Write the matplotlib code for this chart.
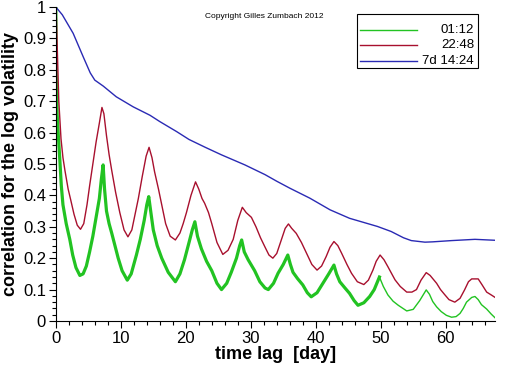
import numpy as np
import matplotlib.pyplot as plt
from matplotlib.ticker import MultipleLocator
from matplotlib.patches import Rectangle

plt.rcParams['font.family'] = ['Liberation Sans', 'DejaVu Sans']

# lag [day] / correlation

# 01:12
day_g = [0.0, 0.05, 0.2, 0.36, 0.6, 0.85, 1.1, 1.6, 2.15, 2.6, 3.1, 3.7, 4.2, 4.7, 5.2,
         5.7, 6.2, 6.7, 7.0, 7.28, 7.5, 7.8, 8.2, 8.6, 9.1, 9.6, 10.2, 11.0, 11.6, 12.4,
         13.0, 13.6, 14.0, 14.3, 14.6, 15.0, 15.6, 16.3, 17.3, 18.4, 19.1, 19.8, 20.5,
         21.0, 21.4, 21.8, 22.4, 23.2, 24.0, 24.8, 25.5, 26.3, 27.0, 27.8, 28.3, 28.6,
         29.0, 29.6, 30.6, 31.4, 32.2, 32.7, 33.5, 34.2, 35.0, 35.7, 36.1, 36.5, 37.2,
         38.0, 38.7, 39.3, 40.2, 41.1, 42.0, 42.8, 43.2, 43.7, 44.5, 45.2, 45.9, 46.5,
         47.4, 48.3, 49.0, 49.8, 50.4, 51.1, 51.9, 52.7, 54.0, 55.0, 56.0, 57.0, 57.5,
         58.0, 58.6, 59.3, 60.1, 60.9, 61.6, 62.2, 62.7, 63.2, 64.0, 64.5, 65.0, 65.5,
         66.3, 67.0, 67.6]
corr_g = [1.0, 0.80, 0.66, 0.60, 0.52, 0.43, 0.37, 0.31, 0.26, 0.21, 0.17, 0.145, 0.15,
          0.175, 0.22, 0.27, 0.33, 0.39, 0.45, 0.497, 0.42, 0.35, 0.31, 0.28, 0.24, 0.20,
          0.16, 0.13, 0.15, 0.21, 0.26, 0.32, 0.37, 0.396, 0.35, 0.29, 0.24, 0.20, 0.155,
          0.125, 0.15, 0.195, 0.25, 0.29, 0.316, 0.27, 0.23, 0.19, 0.16, 0.12, 0.10,
          0.12, 0.155, 0.20, 0.24, 0.258, 0.22, 0.195, 0.16, 0.125, 0.105, 0.10, 0.12,
          0.152, 0.18, 0.21, 0.18, 0.155, 0.135, 0.115, 0.09, 0.077, 0.09, 0.12, 0.15,
          0.178, 0.15, 0.125, 0.105, 0.088, 0.065, 0.05, 0.058, 0.078, 0.10, 0.14, 0.11,
          0.083, 0.063, 0.05, 0.032, 0.037, 0.065, 0.099, 0.085, 0.062, 0.045, 0.03,
          0.018, 0.012, 0.014, 0.024, 0.04, 0.06, 0.075, 0.078, 0.068, 0.052, 0.038,
          0.022, 0.01]

# 22:48
day_r = [0.0, 0.1, 0.25, 0.46, 0.8, 1.1, 1.4, 1.9, 2.3, 2.8, 3.3, 3.8, 4.3, 4.8, 5.2,
         5.7, 6.2, 6.7, 7.1, 7.4, 7.8, 8.2, 8.6, 9.2, 9.85, 10.5, 11.1, 11.7, 12.2, 12.7,
         13.3, 13.9, 14.35, 14.8, 15.2, 15.8, 16.3, 16.9, 17.6, 18.4, 19.1, 19.6, 20.1,
         20.8, 21.5, 22.0, 22.5, 22.9, 23.5, 24.0, 24.8, 25.7, 26.5, 27.3, 28.0, 28.7,
         29.3, 30.1, 30.8, 31.5, 32.2, 32.8, 33.4, 34.0, 34.7, 35.3, 35.8, 36.3, 37.0,
         37.8, 38.6, 39.4, 40.2, 40.9, 41.6, 42.2, 42.8, 43.4, 44.0, 44.8, 45.5, 46.4,
         47.4, 48.1, 48.8, 49.3, 49.9, 50.5, 51.1, 51.7, 52.2, 53.0, 54.0, 54.8, 55.5,
         56.2, 57.0, 57.6, 58.2, 58.6, 59.2, 59.8, 60.5, 61.4, 62.2, 62.9, 63.5, 64.0,
         65.0, 65.6, 66.3, 67.0, 67.6]
corr_r = [1.0, 0.96, 0.85, 0.70, 0.58, 0.52, 0.48, 0.42, 0.385, 0.34, 0.305, 0.292, 0.31,
          0.37, 0.43, 0.50, 0.57, 0.63, 0.68, 0.66, 0.59, 0.53, 0.48, 0.41, 0.345, 0.29,
          0.268, 0.29, 0.34, 0.39, 0.46, 0.525, 0.553, 0.52, 0.475, 0.42, 0.37, 0.31,
          0.27, 0.258, 0.28, 0.31, 0.345, 0.40, 0.443, 0.42, 0.39, 0.375, 0.345, 0.31,
          0.25, 0.212, 0.225, 0.26, 0.32, 0.362, 0.345, 0.33, 0.30, 0.265, 0.235, 0.21,
          0.20, 0.215, 0.258, 0.295, 0.309, 0.295, 0.279, 0.25, 0.215, 0.18, 0.162,
          0.175, 0.205, 0.235, 0.253, 0.24, 0.215, 0.18, 0.152, 0.125, 0.116, 0.13,
          0.162, 0.19, 0.21, 0.195, 0.173, 0.15, 0.131, 0.11, 0.092, 0.092, 0.10, 0.13,
          0.154, 0.145, 0.13, 0.12, 0.10, 0.085, 0.068, 0.06, 0.072, 0.099, 0.125, 0.134,
          0.134, 0.115, 0.092, 0.083, 0.075]

# 7d 14:24
day_b = [0.0, 1.0, 2.67, 4.2, 5.3, 6.0, 7.3, 9.3, 11.9, 14.5, 16.0, 18.6, 20.5, 23.0,
         25.5, 29.1, 32.2, 34.0, 36.0, 39.1, 42.2, 45.2, 49.5, 51.6, 53.5, 54.7, 56.8,
         58.0, 60.9, 64.5, 67.6]
corr_b = [1.0, 0.975, 0.916, 0.842, 0.79, 0.767, 0.748, 0.714, 0.682, 0.655, 0.635,
          0.603, 0.578, 0.553, 0.529, 0.497, 0.466, 0.445, 0.423, 0.391, 0.354, 0.327,
          0.301, 0.285, 0.265, 0.256, 0.251, 0.252, 0.256, 0.26, 0.257]

labels = ['01:12', '22:48', '7d 14:24']
colors = ['#22c322', '#a8102e', '#2a2ab4']

fig = plt.figure(figsize=(5.12, 3.66), dpi=100)
ax = fig.add_axes([0.109, 0.123, 0.858, 0.858])
ax.spines['top'].set_visible(False)
ax.spines['right'].set_visible(False)

day_g = np.array(day_g)
corr_g = np.array(corr_g)
thick = day_g <= 49.8
thin = day_g >= 49.8

# the 01:12 curve is a noisy band up to ~50 days, thin afterwards
ax.plot(day_g[thick], corr_g[thick], color=colors[0], linewidth=2.3)
ax.plot(day_g[thin], corr_g[thin], color=colors[0], linewidth=1.0)
ax.plot(day_r, corr_r, color=colors[1], linewidth=1.0)
ax.plot(day_b, corr_b, color=colors[2], linewidth=1.0)

# legend box, drawn by hand (labels right aligned)
fig.patches.append(Rectangle((0.697, 0.814), 0.237, 0.148, transform=fig.transFigure,
                             facecolor='white', edgecolor='black', linewidth=0.8))
ly = [0.918, 0.878, 0.834]
for c, lab, y in zip(colors, labels, ly):
    fig.add_artist(plt.Line2D([0.703, 0.814], [y, y], color=c, linewidth=1.0,
                              transform=fig.transFigure))
    fig.text(0.926, y, lab, fontsize=9.5, ha='right', va='center')

fig.text(0.4, 0.952, 'Copyright Gilles Zumbach 2012', fontsize=6)

ax.set_xlim(0, 67.6)
ax.set_ylim(0, 1.0)
ax.xaxis.set_major_locator(MultipleLocator(10))
ax.xaxis.set_minor_locator(MultipleLocator(2))
ax.yaxis.set_minor_locator(MultipleLocator(0.02))
ax.set_yticks(np.arange(0, 1.01, 0.1))
ax.set_yticklabels(['0', '0.1', '0.2', '0.3', '0.4', '0.5', '0.6', '0.7', '0.8', '0.9', '1'])
ax.tick_params(which='major', length=5, width=0.8, labelsize=12, pad=2)
ax.tick_params(which='minor', length=3, width=0.8)

ax.set_xlabel('time lag  [day]', fontsize=13, fontweight='bold', labelpad=0)
ax.set_ylabel('correlation for the log volatility', fontsize=13, fontweight='bold', labelpad=3)

plt.savefig('out.png', dpi=100)
